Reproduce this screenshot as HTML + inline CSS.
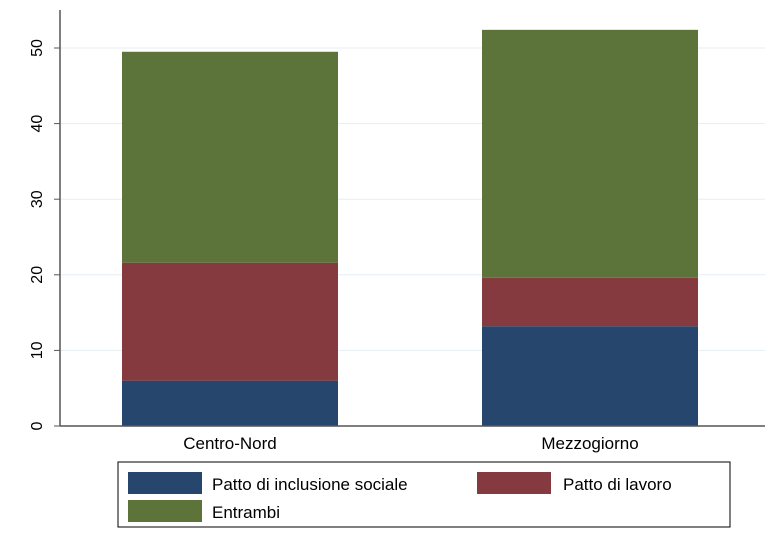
<!DOCTYPE html>
<html><head><meta charset="utf-8"><style>
body{margin:0;background:#fff;}
svg text{font-family:"Liberation Sans",sans-serif;fill:#000;}
</style></head><body>
<svg id="chart" width="778" height="540">
<g id="grid"></g>
<g id="bars"></g>
<g id="axes"></g>
<g>
<rect x="118" y="462" width="612" height="65" fill="#fff" stroke="#000" stroke-width="1"/>
<rect x="128" y="472" width="74" height="22" fill="#26466d"/>
<text x="212" y="490" font-size="17">Patto di inclusione sociale</text>
<rect x="477" y="472" width="74" height="22" fill="#843a3e"/>
<text x="563" y="490" font-size="17">Patto di lavoro</text>
<rect x="128" y="500" width="74" height="22" fill="#5c7339"/>
<text x="212" y="518" font-size="17">Entrambi</text>
</g>
</svg>
<script>
const categories = ["Centro-Nord", "Mezzogiorno"];
const pattoInclusione = [6.0, 13.2];
const pattoLavoro = [15.6, 6.4];
const entrambi = [27.9, 32.8];
const yTicks = [0, 10, 20, 30, 40, 50];
const seriesNames = ["patto-inclusione", "patto-lavoro", "entrambi"];
const colors = ["#26466d", "#843a3e", "#5c7339"];

const NS = "http://www.w3.org/2000/svg";
const y0 = 426, pxPerUnit = 7.56;
function yScale(v){ return y0 - v * pxPerUnit; }
const xLeft = 60, xRight = 765;
const centers = [230, 590], barW = 216;
function xScale(i){ return centers[i]; }
function mk(tag, attrs, parent){
  const e = document.createElementNS(NS, tag);
  for (const k in attrs) e.setAttribute(k, attrs[k]);
  parent.appendChild(e); return e;
}
const grid = document.getElementById("grid"), bars = document.getElementById("bars"), axes = document.getElementById("axes");
yTicks.forEach(t => {
  if (t > 0) {
    const g = mk("line", {x1: xLeft, x2: xRight, y1: yScale(t), y2: yScale(t), stroke: "#e6eef2", "stroke-width": 1}, grid);
    
    
  }
  const tk = mk("line", {x1: 54, x2: xLeft, y1: yScale(t), y2: yScale(t), stroke: "#555", "stroke-width": 1}, axes);
  
  
  const lb = mk("text", {x: 0, y: 0, "font-size": 16, "text-anchor": "middle", transform: "translate(42," + yScale(t) + ") rotate(-90)"}, axes);
  lb.textContent = t;
  
  
});
const series = [pattoInclusione, pattoLavoro, entrambi];
categories.forEach((c, i) => {
  let base = 0;
  series.forEach((s, j) => {
    const top = base + s[i];
    const r = mk("rect", {x: xScale(i) - barW/2, y: yScale(top), width: barW, height: yScale(base) - yScale(top), fill: colors[j]}, bars);
    
    
    base = top;
  });
  const lb = mk("text", {x: xScale(i), y: 449, "font-size": 17, "text-anchor": "middle"}, axes);
  lb.textContent = c;
  
  
});
const ya = mk("line", {x1: xLeft, x2: xLeft, y1: 10, y2: y0, stroke: "#555", "stroke-width": 1.5}, axes);


const xa = mk("line", {x1: xLeft, x2: xRight, y1: y0, y2: y0, stroke: "#555", "stroke-width": 1.5}, axes);


</script>
</body></html>
